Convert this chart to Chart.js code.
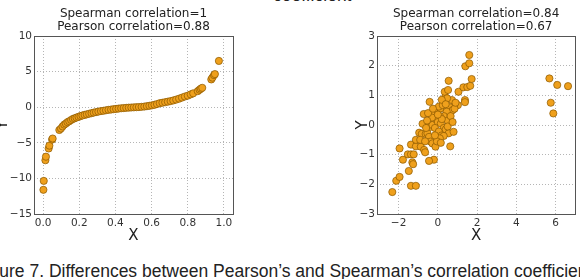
<!DOCTYPE html>
<html>
<head>
<meta charset="utf-8">
<script src="https://cdn.jsdelivr.net/npm/chart.js@4/dist/chart.umd.min.js"></script>
<style>
  html, body { margin: 0; padding: 0; background: #fff; overflow: hidden; }
  body { width: 580px; height: 279px; position: relative; }
  canvas { position: absolute; top: 0; }
  #left { left: -10px; }
  #right { left: 290px; }
  .cap { position: absolute; white-space: nowrap; font-family: "Liberation Sans", Arial, sans-serif;
         font-size: 17.5px; line-height: 20px; color: #222; }
  #capTop { left: 273px; top: -15px; }
  #capBottom { left: -25px; top: 261px; }
</style>
</head>
<body>
<div class="cap" id="capTop">coefficient</div>
<canvas id="left" width="300" height="250"></canvas>
<canvas id="right" width="290" height="250"></canvas>
<div class="cap" id="capBottom">Figure 7. Differences between Pearson’s and Spearman’s correlation coefficient</div>
<script>
// left panel: monotonic but non-linear
const leftTitle = ["Spearman correlation=1", "Pearson correlation=0.88"];
const leftX = [0.002,0.004,0.013,0.016,0.031,0.035,0.05,0.053,0.09,0.099,0.108,0.117,0.126,0.135,0.145,0.155,
  0.165,0.175,0.185,0.196,0.207,0.218,0.23,0.242,0.255,0.268,0.28,0.293,0.306,0.32,0.334,0.348,0.362,0.376,
  0.39,0.404,0.418,0.432,0.446,0.46,0.474,0.488,0.502,0.516,0.53,0.545,0.56,0.574,0.588,0.602,0.616,0.63,
  0.645,0.66,0.675,0.69,0.705,0.72,0.736,0.752,0.768,0.784,0.8,0.816,0.83,0.855,0.865,0.872,0.88,0.93,
  0.936,0.945,0.95,0.972];
const leftY = [-11.6,-10.35,-7.45,-6.95,-5.8,-5.4,-4.55,-4.4,-3.2,-3.0,-2.7,-2.45,-2.3,-2.1,-1.97,-1.8,
  -1.65,-1.55,-1.45,-1.35,-1.25,-1.16,-1.08,-1.0,-0.92,-0.84,-0.76,-0.69,-0.62,-0.55,-0.5,-0.43,-0.37,-0.33,
  -0.28,-0.24,-0.19,-0.15,-0.12,-0.09,-0.06,-0.04,-0.02,0.0,0.02,0.05,0.09,0.14,0.2,0.26,0.34,0.44,
  0.56,0.63,0.7,0.78,0.86,0.95,1.07,1.2,1.35,1.5,1.62,1.8,1.95,2.25,2.45,2.6,2.72,3.9,
  4.15,4.5,4.65,6.5];
const leftXTicks = [0, 0.2, 0.4, 0.6, 0.8, 1.0];
const leftYTicks = [-15, -10, -5, 0, 5, 10];

// right panel: correlated cloud plus a few outliers
const rightTitle = ["Spearman correlation=0.84", "Pearson correlation=0.67"];
const rightX = [-2.32,-2.12,-1.95,-1.95,-1.78,-1.53,-1.37,-1.23,-1.3,-1.26,-1.48,-1.37,-1.12,-1.37,-1.12,-1.12,
  -0.87,-0.7,-0.65,-0.95,-0.82,-0.62,-0.78,-0.72,-0.45,-0.37,-0.28,-0.53,-0.45,-0.37,-0.28,-0.12,-0.2,-0.45,
  0.63,-0.42,-0.2,-0.03,0.13,0.05,0.25,0.38,0.35,0.52,0.55,1.05,1.02,1.38,1.38,1.3,1.5,1.65,1.72,1.4,1.6,1.6,
  0.72,0.47,0.6,0.75,0.45,0.3,0.1,-0.1,0.0,0.15,0.3,-0.15,0.05,0.2,0.4,0.5,0.55,0.8,0.3,0.1,-0.05,-0.6,-0.9,
  -0.3,0.2,-0.5,0.65,0.85,0.2,-0.25,0.0,-0.55,0.4,0.9,-0.15,0.15,-0.65,0.5,0.75,
  5.68,6.08,6.63,5.75,5.88];
const rightY = [-2.26,-1.88,-1.75,-0.79,-1.17,-0.99,-0.99,-0.99,-1.26,-1.32,-1.55,-2.05,-2.05,-0.66,-0.72,-0.5,
  -0.73,-0.84,-0.92,-0.26,-0.3,-0.3,0.04,0.37,0.06,-0.06,0.0,-0.28,-0.4,-0.56,-0.62,-0.73,-1.17,-1.21,
  -0.72,0.78,0.45,0.5,0.56,0.62,0.67,0.95,1.12,1.18,1.49,1.12,0.67,0.84,0.77,1.27,1.28,1.32,1.55,1.98,2.08,2.36,
  0.84,0.9,0.6,0.5,0.45,0.3,0.3,0.2,0.1,0.05,-0.1,-0.1,-0.22,-0.35,-0.15,0.15,-0.28,-0.23,-0.37,-0.45,-0.55,-0.1,-0.5,
  0.25,0.2,0.4,0.3,0.55,0.85,0.55,0.35,0.15,0.7,0.75,-0.35,-0.6,-0.55,-0.05,0.1,
  1.57,1.35,1.31,0.75,0.39];
const rightXTicks = [-2, 0, 2, 4, 6];
const rightYTicks = [-3, -2, -1, 0, 1, 2, 3];

const FONT = "'DejaVu Sans', sans-serif";
const minus = v => (v < 0 ? "\u2212" + Math.abs(v) : String(v));

// box round the plot, matplotlib style
const framePlugin = {
  id: "frame",
  afterDatasetsDraw(chart) {
    const a = chart.chartArea, c = chart.ctx;
    c.save();
    c.strokeStyle = "#555";
    c.lineWidth = 1;
    c.strokeRect(Math.round(a.left) + 0.5, Math.round(a.top) + 0.5,
      Math.round(a.right - a.left), Math.round(a.bottom - a.top));
    c.restore();
  }
};

// two-line title centred over the plot area, not the canvas
const panelTitle = {
  id: "panelTitle",
  afterDraw(chart, args, opts) {
    const a = chart.chartArea, c = chart.ctx;
    c.save();
    c.fillStyle = "#222";
    c.font = "12px " + FONT;
    c.textAlign = "center";
    c.textBaseline = "middle";
    opts.lines.forEach((t, i) => c.fillText(t, (a.left + a.right) / 2, 14 + i * 13));
    c.restore();
  }
};

function makeChart(id, xs, ys, title, xTicks, yTicks, xRange, yRange, xFmt, yWidth, pad) {
  const pts = xs.map((x, i) => ({ x: x, y: ys[i] }));
  return new Chart(document.getElementById(id), {
    type: "scatter",
    data: {
      datasets: [{
        data: pts,
        pointRadius: 3.6,
        pointBackgroundColor: "#efa01c",
        pointBorderColor: "#8a5800",
        pointBorderWidth: 0.7
      }]
    },
    options: {
      responsive: false,
      animation: false,
      layout: { padding: pad },
      plugins: {
        legend: { display: false },
        tooltip: { enabled: false },
        title: { display: false },
        panelTitle: { lines: title }
      },
      scales: {
        x: {
          type: "linear",
          min: xRange[0], max: xRange[1],
          afterBuildTicks: s => { s.ticks = xTicks.map(v => ({ value: v })); },
          afterFit: s => { s.height = 36; },
          grid: { color: "#b5b5b5", drawTicks: false },
          border: { display: false, dash: [1, 2] },
          ticks: { color: "#333", padding: 3, font: { family: FONT, size: 10.5 }, callback: xFmt },
          title: { display: true, text: "X", color: "#222", padding: { top: 0, bottom: 5 },
                   font: { family: FONT, size: 15 } }
        },
        y: {
          type: "linear",
          min: yRange[0], max: yRange[1],
          afterBuildTicks: s => { s.ticks = yTicks.map(v => ({ value: v })); },
          afterFit: s => { s.width = yWidth; },
          grid: { color: "#b5b5b5", drawTicks: false },
          border: { display: false, dash: [1, 2] },
          ticks: { color: "#333", padding: 2, font: { family: FONT, size: 10.5 }, callback: v => minus(v) },
          title: { display: true, text: "Y", color: "#222", padding: 4,
                   font: { family: FONT, size: 15 } }
        }
      }
    },
    plugins: [framePlugin, panelTitle]
  });
}

makeChart("left", leftX, leftY, leftTitle, leftXTicks, leftYTicks, [-0.05, 1.05], [-15, 10],
  v => v.toFixed(1), 44, { left: 0, right: 57, top: 36, bottom: 0 });
makeChart("right", rightX, rightY, rightTitle, rightXTicks, rightYTicks, [-3.1, 7], [-3, 3],
  v => minus(v), 27, { left: 60, right: 1, top: 36, bottom: 0 });
</script>
</body>
</html>
